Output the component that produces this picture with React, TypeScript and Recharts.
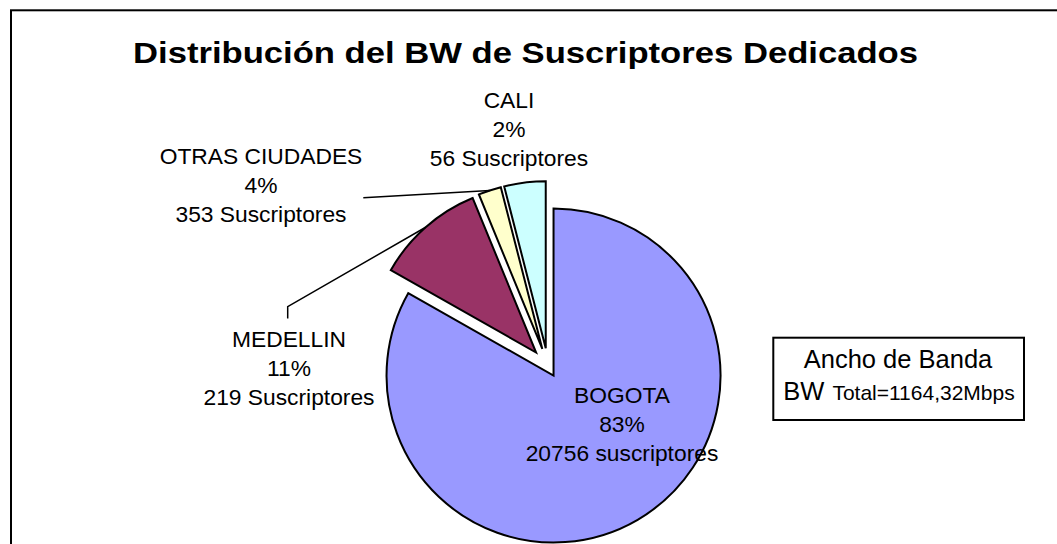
import React from 'react';
import { PieChart, Pie, Cell } from 'recharts';

// ---- data ----
const CITIES = ['BOGOTA', 'MEDELLIN', 'OTRAS CIUDADES', 'CALI'];
const SHARES = [83.2, 10.6, 2.2, 4.0]; // slice sizes as drawn (%)
const PERCENT_LABELS = ['83%', '11%', '4%', '2%'];
const SUBSCRIBER_LABELS = ['20756 suscriptores', '219 Suscriptores', '353 Suscriptores', '56 Suscriptores'];
const TITLE = 'Distribución del BW de Suscriptores Dedicados';
const BOX_LINE1 = 'Ancho de Banda';
const BOX_BW = 'BW';
const BOX_TOTAL = 'Total=1164,32Mbps';

// ---- style ----
const COLORS = ['#9999FF', '#993366', '#FFFFCC', '#CCFFFF'];
const FONT = "'Liberation Sans', Arial, Helvetica, sans-serif";
const W = 1057;
const H = 544;
const CENTER = { x: 548, y: 366 };
const RADIUS = 167;
const EXPLODE = [11, 18, 18, 18];
const LABEL_FONT = 22.8;
const LINE_GAP = 29;
const LABEL_POS = [
  { x: 622, y: 403.3 },
  { x: 289, y: 347.3 },
  { x: 261, y: 164 },
  { x: 509, y: 108.3 },
];
// leader line starting points (label side); null = no leader
const LEADER_START: ({ x: number; y: number }[] | null)[] = [
  null,
  [
    { x: 287.7, y: 318.5 },
    { x: 287.7, y: 306.7 },
  ],
  [{ x: 363.3, y: 197.7 }],
  null,
];

const data = CITIES.map((name, i) => ({ name, value: SHARES[i] }));

const RAD = Math.PI / 180;
const total = SHARES.reduce((a, b) => a + b, 0);
let cum = 0;
const MID = SHARES.map((v) => {
  const s = 90 - (360 * cum) / total;
  cum += v;
  const e = 90 - (360 * cum) / total;
  return (s + e) / 2;
});
const CENTERS = MID.map((m, i) => ({
  x: CENTER.x + EXPLODE[i] * Math.cos(m * RAD),
  y: CENTER.y - EXPLODE[i] * Math.sin(m * RAD),
}));

const renderLabel = (props: any) => {
  const i: number = props.index;
  const mid = typeof props.midAngle === 'number' ? props.midAngle : MID[i];
  const c = CENTERS[i];
  const edge = { x: c.x + RADIUS * Math.cos(mid * RAD), y: c.y - RADIUS * Math.sin(mid * RAD) };
  const p = LABEL_POS[i];
  const leader = LEADER_START[i];
  return (
    <g key={`lbl-${i}`}>
      {leader && (
        <polyline
          points={[...leader, edge].map((q) => `${q.x},${q.y}`).join(' ')}
          fill="none"
          stroke="#000"
          strokeWidth={1.5}
        />
      )}
      <text
        x={p.x}
        y={p.y}
        textAnchor="middle"
        fontFamily={FONT}
        fontSize={LABEL_FONT}
        fill="#000"
      >
        <tspan x={p.x} y={p.y}>{CITIES[i]}</tspan>
        <tspan x={p.x} y={p.y + LINE_GAP}>{PERCENT_LABELS[i]}</tspan>
        <tspan x={p.x} y={p.y + 2 * LINE_GAP}>{SUBSCRIBER_LABELS[i]}</tspan>
      </text>
    </g>
  );
};

export default function App() {
  return (
    <div style={{ position: 'absolute', left: 0, top: 0, width: W, height: H, background: '#fff', overflow: 'hidden' }}>
      <svg width={W} height={H} style={{ position: 'absolute', left: 0, top: 0 }}>
        <rect x={11} y={10.3} width={W + 50} height={H + 50} fill="none" stroke="#000" strokeWidth={2} />
        <text
          x={525.5}
          y={63}
          textAnchor="middle"
          fontFamily={FONT}
          fontWeight="bold"
          fontSize={29}
          textLength={785}
          lengthAdjust="spacingAndGlyphs"
          fill="#000"
        >
          {TITLE}
        </text>
        <rect x={773.3} y={337.7} width={250.7} height={82.3} fill="#fff" stroke="#000" strokeWidth={2} />
        <text x={898} y={367.7} textAnchor="middle" fontFamily={FONT} fontSize={25.5} fill="#000">
          {BOX_LINE1}
        </text>
        <text x={899} y={400} textAnchor="middle" fontFamily={FONT} fill="#000">
          <tspan fontSize={25.5}>{BOX_BW}</tspan>
          <tspan fontSize={21} dx={8}>{BOX_TOTAL}</tspan>
        </text>
      </svg>
      <div style={{ position: 'absolute', left: 0, top: 0 }}>
        <PieChart width={W} height={H} margin={{ top: 0, right: 0, bottom: 0, left: 0 }}>
          {CITIES.map((_, k) => (
            <Pie
              key={`pie-${k}`}
              data={data}
              dataKey="value"
              nameKey="name"
              cx={CENTERS[k].x}
              cy={CENTERS[k].y}
              outerRadius={RADIUS}
              innerRadius={0}
              startAngle={90}
              endAngle={-270}
              isAnimationActive={false}
              labelLine={false}
              label={k === CITIES.length - 1 ? renderLabel : false}
            >
              {data.map((_, i) => (
                <Cell
                  key={`c-${k}-${i}`}
                  fill={i === k ? COLORS[i] : 'none'}
                  stroke={i === k ? '#000' : 'none'}
                  strokeWidth={2}
                />
              ))}
            </Pie>
          ))}
        </PieChart>
      </div>
    </div>
  );
}
